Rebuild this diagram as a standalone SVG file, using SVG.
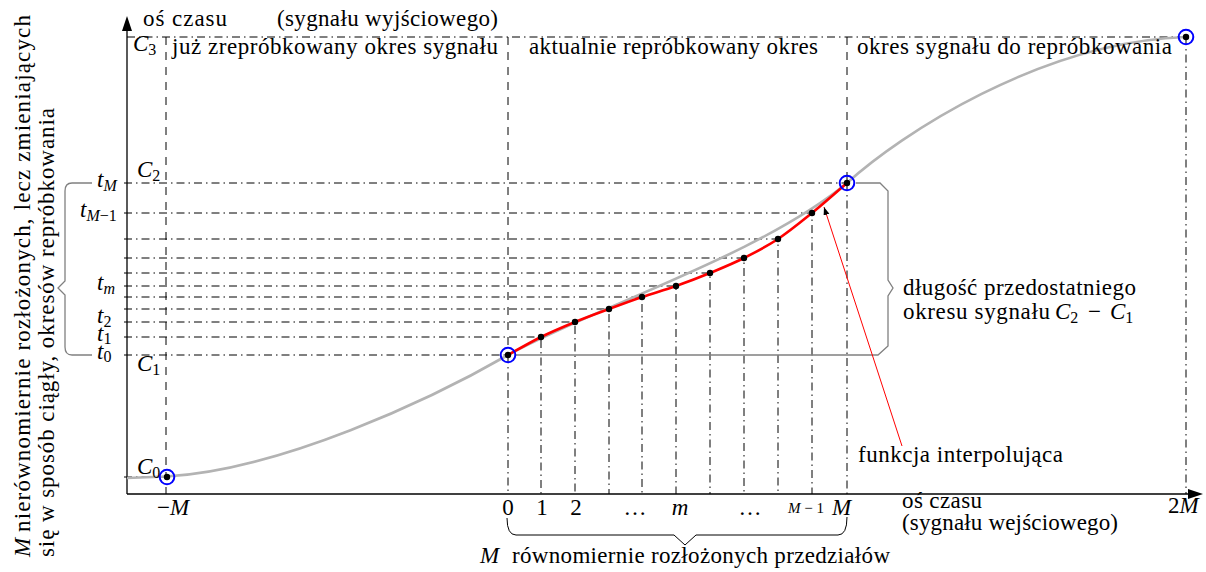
<svg xmlns="http://www.w3.org/2000/svg" width="1206" height="572" viewBox="0 0 1206 572">
<style>
.ax{stroke:#000;stroke-width:1.3;fill:none}
.dd{stroke:#000;stroke-width:1;stroke-dasharray:8 4 1.5 4;fill:none}
.da{stroke:#000;stroke-width:1;stroke-dasharray:8 7;fill:none}
.gray{stroke:#b3b3b3;stroke-width:2.6;fill:none}
.red{stroke:#ff0000;stroke-width:2.6;fill:none}
.br{stroke:#808080;stroke-width:1.3;fill:none}
.bb{stroke:#000;stroke-width:1;fill:none}
.t{font-family:"Liberation Serif","Times New Roman",serif;font-size:23px;fill:#000}
.i{font-style:italic}
.s{font-size:16px}
.circ{stroke:#0000ff;stroke-width:2;fill:none}
.dot{fill:#000}
</style>
<defs>
<marker id="ah" markerUnits="userSpaceOnUse" markerWidth="10" markerHeight="8" refX="8" refY="3" orient="auto">
<path d="M0,0 L8,3 L0,6 z" fill="#000"/>
</marker>
</defs>

<g id="grid">
<path class="dd" d="M127,37 H1186"/>
<path class="da" d="M166,37 V494"/>
<path class="da" d="M508,37 V355"/>
<path class="dd" d="M508,355 V494"/>
<path class="da" d="M847,37 V183"/>
<path class="dd" d="M847,183 V494"/>
<path class="dd" d="M1186,37 V494"/>
<path class="dd" d="M124,477 H166"/>
<path class="dd" d="M124,355 H508"/>
<path class="dd" d="M124,337 H541 V494"/>
<path class="dd" d="M124,322 H575 V494"/>
<path class="dd" d="M124,309 H609 V494"/>
<path class="dd" d="M124,297 H642 V494"/>
<path class="dd" d="M124,286 H676 V494"/>
<path class="dd" d="M124,273 H710 V494"/>
<path class="dd" d="M124,258 H744 V494"/>
<path class="dd" d="M124,239 H778 V494"/>
<path class="dd" d="M124,213 H812 V494"/>
<path class="dd" d="M124,183 H847"/>
</g>

<g id="axes">
<path class="ax" d="M127,494 V28"/>
<polygon points="127,16 122,31 132,31" fill="#000"/>
<path class="ax" d="M127,494 H1190"/>
<polygon points="1203,494 1188,489 1188,499" fill="#000"/>
</g>

<g id="braces">
<path class="br" d="M92,183 H72 Q65,183 65,191 V281 L58,288 L65,295 V347 Q65,355 72,355 H92"/>
<path class="br" d="M516,355 H878 L888,346 V296 L893,288 L888,280 V191 L880,183 H856"/>
<path class="bb" d="M507,518 Q507,535 516,535 H674 L685,545 L696,535 H838 Q847,535 847,517"/>
</g>

<g id="curves">
<path class="gray" d="M127,478 L166,476.5 C280,470 430,400 508,355 C600,305 760,255 847,183 C900,135 1040,42 1186,37"/>
<path class="red" d="M508,355 C513.5,352 529.8,342.5 541,337 C552.2,331.5 563.7,326.7 575,322 C586.3,317.3 597.8,313.2 609,309 C620.2,304.8 630.8,300.8 642,297 C653.2,293.2 664.7,290 676,286 C687.3,282 698.7,277.7 710,273 C721.3,268.3 732.7,263.7 744,258 C755.3,252.3 766.7,246.5 778,239 C789.3,231.5 800.5,222.3 812,213 C823.5,203.7 841.2,188 847,183"/>
</g>

<g id="points">
<circle class="dot" cx="541" cy="337" r="3.2"/>
<circle class="dot" cx="575" cy="322" r="3.2"/>
<circle class="dot" cx="609" cy="309" r="3.2"/>
<circle class="dot" cx="642" cy="297" r="3.2"/>
<circle class="dot" cx="676" cy="286" r="3.2"/>
<circle class="dot" cx="710" cy="273" r="3.2"/>
<circle class="dot" cx="744" cy="258" r="3.2"/>
<circle class="dot" cx="778" cy="239" r="3.2"/>
<circle class="dot" cx="812" cy="213" r="3.2"/>
</g>
<g id="node-C0"><circle class="dot" cx="167" cy="477" r="3.2"/><circle class="circ" cx="167" cy="477" r="7.3"/></g>
<g id="node-C1"><circle class="dot" cx="508" cy="355" r="3.2"/><circle class="circ" cx="508" cy="355" r="7.3"/></g>
<g id="node-C2"><circle class="dot" cx="847" cy="183" r="3.2"/><circle class="circ" cx="847" cy="183" r="7.3"/></g>
<g id="node-C3"><circle class="dot" cx="1186" cy="37" r="3.2"/><circle class="circ" cx="1186" cy="37" r="7.3"/></g>

<g id="connectors">
<path d="M902,446 L824,207" stroke="#ff0000" stroke-width="1" fill="none" marker-end="url(#ah)"/>
</g>

<g id="labels" class="t">
<text x="143" y="26" textLength="84">oś czasu</text>
<text x="277" y="26" textLength="221">(sygnału wyjściowego)</text>
<text x="172" y="54" textLength="326">już zrepróbkowany okres sygnału</text>
<text x="529" y="54" textLength="289">aktualnie repróbkowany okres</text>
<text x="857" y="54" textLength="315">okres sygnału do repróbkowania</text>

<text x="133" y="51"><tspan class="i">C</tspan><tspan class="s" dy="4">3</tspan></text>
<text x="137" y="177"><tspan class="i">C</tspan><tspan class="s" dy="4">2</tspan></text>
<text x="137" y="371"><tspan class="i">C</tspan><tspan class="s" dy="4">1</tspan></text>
<text x="137" y="474"><tspan class="i">C</tspan><tspan class="s" dy="4">0</tspan></text>

<text x="97" y="187"><tspan class="i">t</tspan><tspan class="i s" dy="4">M</tspan></text>
<text x="80" y="217"><tspan class="i">t</tspan><tspan class="i s" dy="4">M</tspan><tspan class="s">−1</tspan></text>
<text x="97" y="290"><tspan class="i">t</tspan><tspan class="i s" dy="4">m</tspan></text>
<text x="97" y="323"><tspan class="i">t</tspan><tspan class="s" dy="4">2</tspan></text>
<text x="97" y="341"><tspan class="i">t</tspan><tspan class="s" dy="3">1</tspan></text>
<text x="97" y="359"><tspan class="i">t</tspan><tspan class="s" dy="3">0</tspan></text>

<text x="157" y="515">−<tspan class="i">M</tspan></text>
<text x="508" y="515" text-anchor="middle">0</text>
<text x="542" y="515" text-anchor="middle">1</text>
<text x="576" y="515" text-anchor="middle">2</text>
<text x="635" y="515" text-anchor="middle">…</text>
<text x="680" y="515" text-anchor="middle" class="i">m</text>
<text x="750" y="515" text-anchor="middle">…</text>
<text x="788" y="513" style="font-size:15px"><tspan class="i">M</tspan> − 1</text>
<text x="832" y="515" class="i">M</text>
<text x="1168" y="513">2<tspan class="i">M</tspan></text>

<text x="902" y="508" textLength="80">oś czasu</text>
<text x="902" y="530" textLength="216">(sygnału wejściowego)</text>

<text x="480" y="563" class="i">M</text>
<text x="512" y="563" textLength="378">równomiernie rozłożonych przedziałów</text>

<text x="903" y="295" textLength="233">długość przedostatniego</text>
<text x="903" y="319" textLength="147">okresu sygnału</text>
<text x="1055" y="319"><tspan class="i">C</tspan><tspan class="s" dy="4">2</tspan></text>
<text x="1088" y="319">−</text>
<text x="1110" y="319"><tspan class="i">C</tspan><tspan class="s" dy="4">1</tspan></text>

<text x="858" y="462" textLength="205">funkcja interpolująca</text>

<g transform="translate(30,557) rotate(-90)">
<text x="0" y="0" class="i">M</text>
<text x="25" y="0" textLength="517">nierównomiernie rozłożonych, lecz zmieniających</text>
</g>
<g transform="translate(54,557) rotate(-90)">
<text x="0" y="0" textLength="449">się w sposób ciągły, okresów repróbkowania</text>
</g>
</g>
</svg>
